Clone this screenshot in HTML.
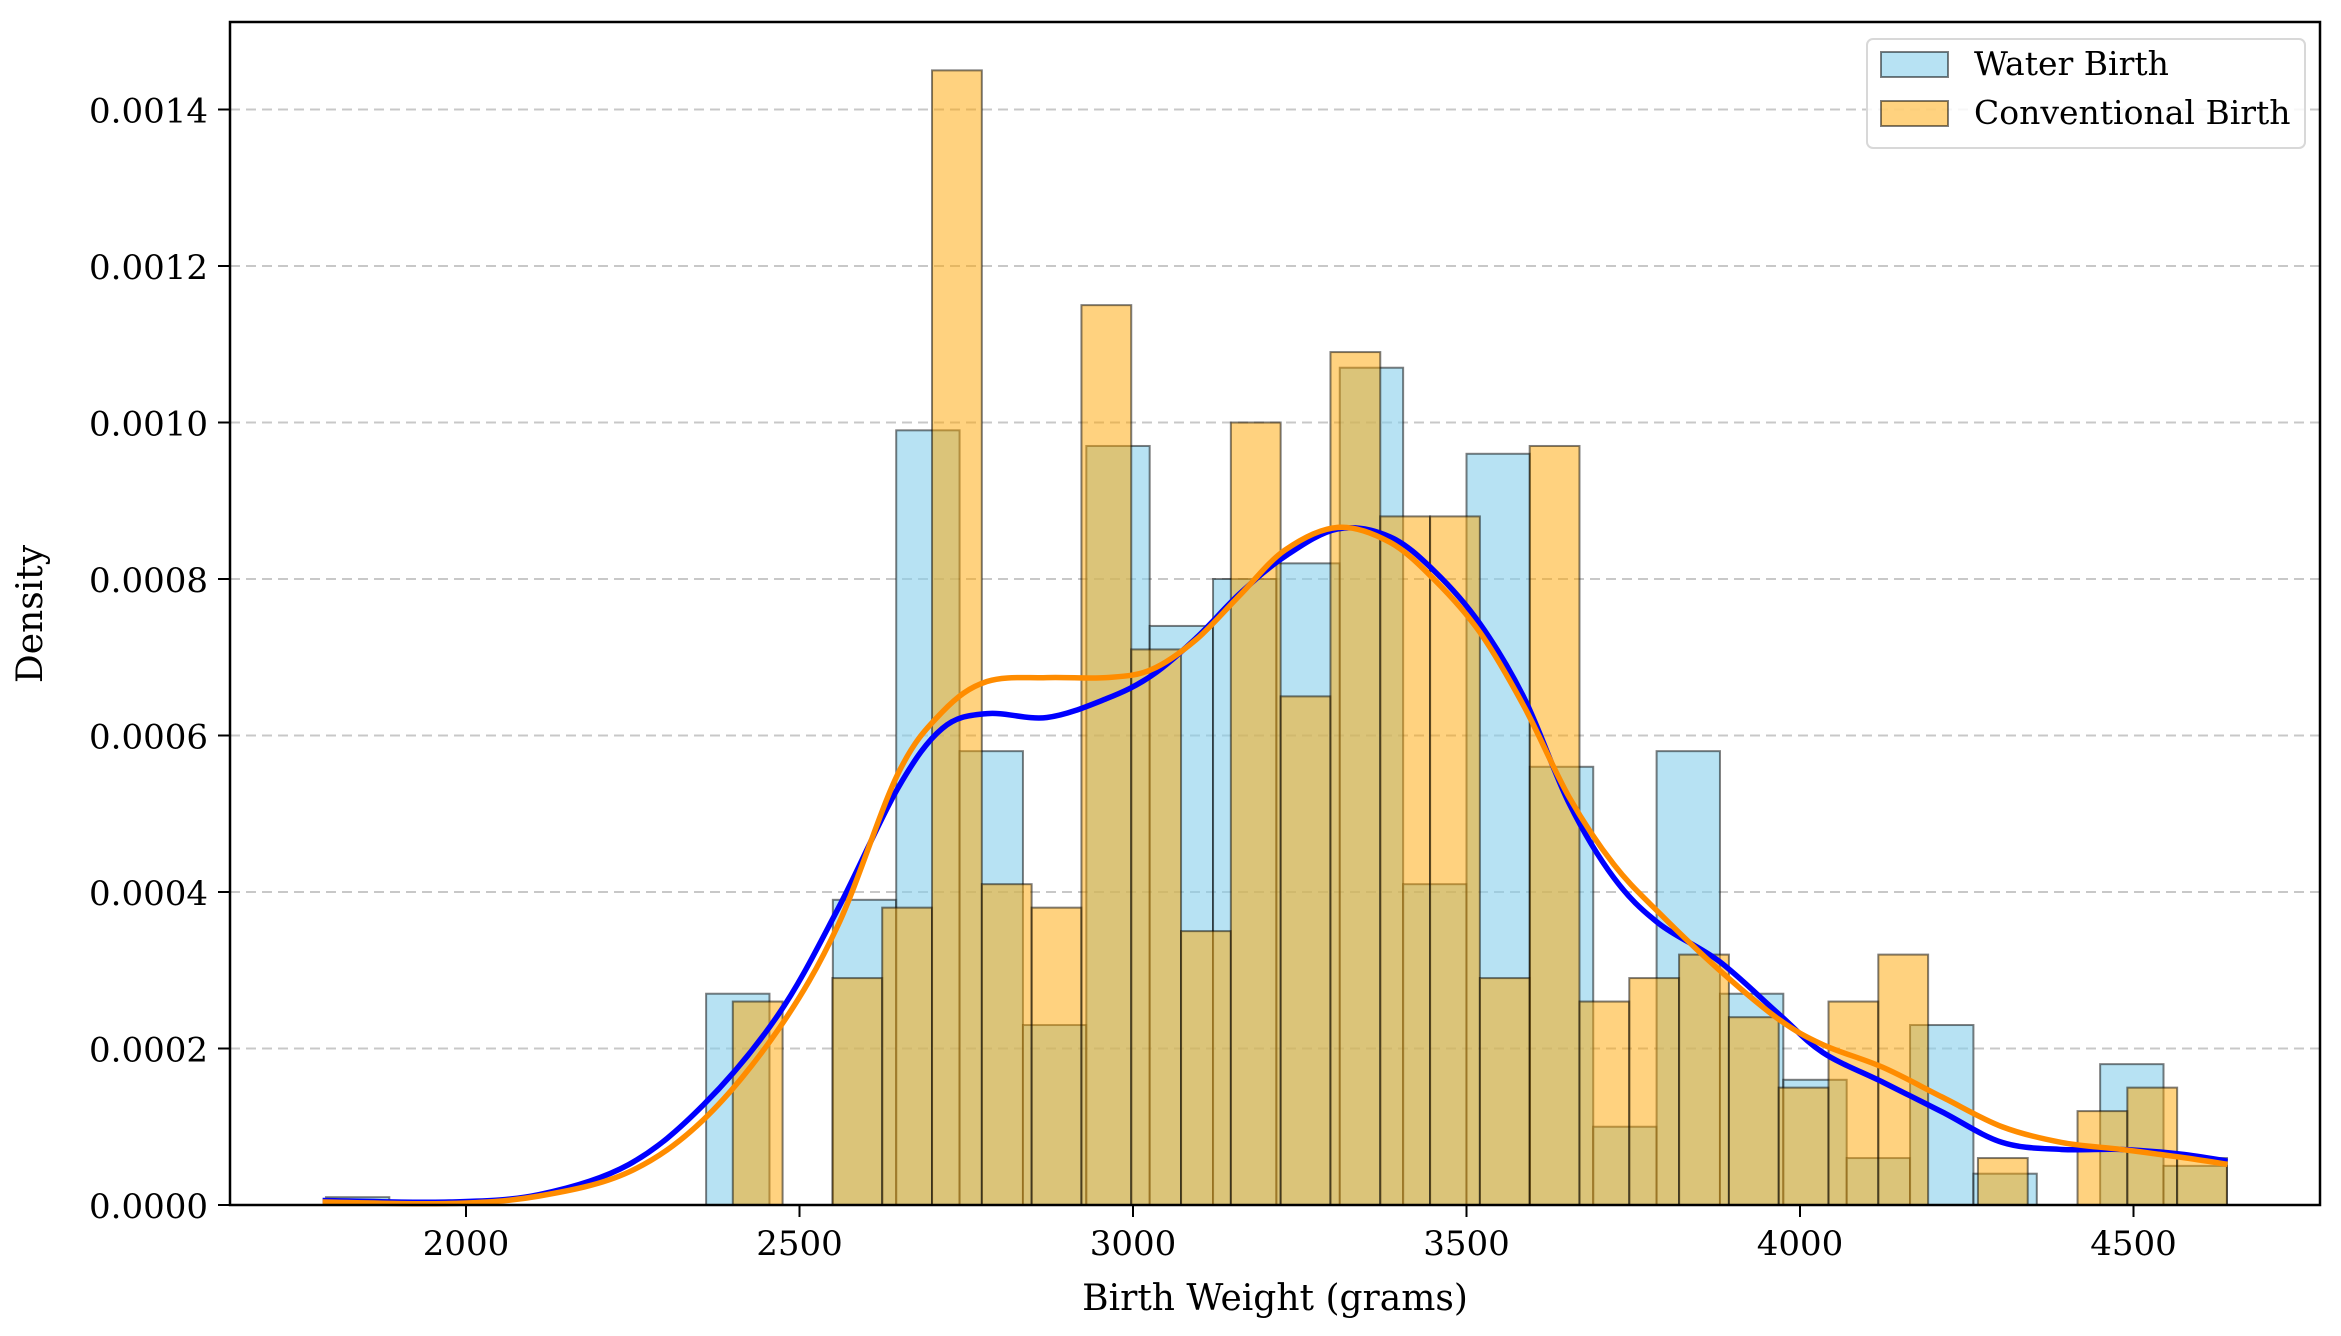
<!DOCTYPE html>
<html><head><meta charset="utf-8"><style>
html,body{margin:0;padding:0;background:#fff}
svg{display:block;font-family:"DejaVu Serif","Liberation Serif",serif}
</style></head><body>
<svg id="chart" width="2341" height="1336" viewBox="0 0 2341 1336" xmlns="http://www.w3.org/2000/svg">
<g id="grid"></g><g id="bars"></g><g id="kde"></g><g id="axes"></g>
</svg>
<script>
const waterStart = 1790, waterWidth = 95;
const waterDensity = [0.00001,0,0,0,0,0,0.00027,0,0.00039,0.00099,0.00058,0.00023,0.00097,0.00074,0.00080,0.00082,0.00107,0.00041,0.00096,0.00056,0.00010,0.00058,0.00027,0.00016,0.00006,0.00023,0.00004,0,0.00018,0.00005];
const convStart = 2400, convWidth = 74.67;
const convDensity = [0.00026,0,0.00029,0.00038,0.00145,0.00041,0.00038,0.00115,0.00071,0.00035,0.00100,0.00065,0.00109,0.00088,0.00088,0.00029,0.00097,0.00026,0.00029,0.00032,0.00024,0.00015,0.00026,0.00032,0,0.00006,0,0.00012,0.00015,0.00006];
const kdeX = [1785,1975,2110,2244,2356,2468,2558,2647,2714,2781,2871,2960,3027,3094,3161,3228,3307,3385,3452,3520,3587,3654,3721,3788,3878,3967,4034,4124,4213,4303,4392,4482,4571,4641];
const waterKde = [0.0000057,0.0000038,0.0000134,0.0000517,0.000128,0.000243,0.000379,0.000532,0.000609,0.000628,0.000623,0.000647,0.000676,0.000724,0.000782,0.000829,0.000864,0.000854,0.000810,0.000743,0.000647,0.000513,0.000418,0.000360,0.000312,0.000245,0.000195,0.000157,0.000119,0.000080,0.000071,0.000071,0.000065,0.000056];
const convKde = [0.0000038,0.0000019,0.0000115,0.0000421,0.000109,0.000224,0.000358,0.000550,0.000630,0.000669,0.000674,0.000674,0.000684,0.000722,0.000780,0.000837,0.000866,0.000847,0.000799,0.000732,0.000636,0.000521,0.000435,0.000374,0.000301,0.000238,0.000205,0.000176,0.000138,0.000100,0.000080,0.000071,0.000061,0.000052];
const xTicks = [2000,2500,3000,3500,4000,4500];
const yTicks = [0,0.0002,0.0004,0.0006,0.0008,0.0010,0.0012,0.0014];
const yTickLabels = ["0.0000","0.0002","0.0004","0.0006","0.0008","0.0010","0.0012","0.0014"];

const L=230,R=2320,T=22,B=1205;
const X=v=>466+(v-2000)*0.667;
const Y=d=>B-d/0.0002*156.5;
const NS="http://www.w3.org/2000/svg";
function mk(tag,attrs,parent){const e=document.createElementNS(NS,tag);for(const k in attrs)e.setAttribute(k,attrs[k]);parent.appendChild(e);return e;}
const grid=document.getElementById('grid'),bars=document.getElementById('bars'),kde=document.getElementById('kde'),axes=document.getElementById('axes');

yTicks.forEach((t,i)=>{
  if(i>0){const g=mk('line',{x1:L,x2:R,y1:Y(t),y2:Y(t),stroke:'#c8c8c8','stroke-width':2,'stroke-dasharray':'10,6'},grid);
  
  }
  const tk=mk('line',{x1:L-12,x2:L,y1:Y(t),y2:Y(t),stroke:'#000','stroke-width':2},axes);
  
  
  const tx=mk('text',{x:L-22,y:Y(t)+13,'text-anchor':'end','font-size':34,fill:'#000'},axes);
  tx.textContent=yTickLabels[i];
  
  
});
xTicks.forEach(t=>{
  const tk=mk('line',{x1:X(t),x2:X(t),y1:B,y2:B+12,stroke:'#000','stroke-width':2},axes);
  
  
  const tx=mk('text',{x:X(t),y:B+50,'text-anchor':'middle','font-size':34,fill:'#000'},axes);
  tx.textContent=String(t);
  
  
});
waterDensity.forEach((d,i)=>{
  const x0=X(waterStart+i*waterWidth),x1=X(waterStart+(i+1)*waterWidth);
  const r=mk('rect',{x:x0,y:Y(d),width:x1-x0,height:B-Y(d),fill:'#87ceeb','fill-opacity':0.6,stroke:'rgba(0,0,0,0.5)','stroke-width':2},bars);
  
  
});
convDensity.forEach((d,i)=>{
  const x0=X(convStart+i*convWidth),x1=X(convStart+(i+1)*convWidth);
  const r=mk('rect',{x:x0,y:Y(d),width:x1-x0,height:B-Y(d),fill:'#ffa500','fill-opacity':0.5,stroke:'rgba(0,0,0,0.5)','stroke-width':2},bars);
  
  
});
function smooth(xs,ys){
  const p=xs.map((v,i)=>[X(v),Y(ys[i])]);
  let d='M'+p[0][0]+','+p[0][1];
  for(let i=0;i<p.length-1;i++){
    const p0=p[Math.max(0,i-1)],p1=p[i],p2=p[i+1],p3=p[Math.min(p.length-1,i+2)];
    d+=' C'+(p1[0]+(p2[0]-p0[0])/6)+','+(p1[1]+(p2[1]-p0[1])/6)+' '+(p2[0]-(p3[0]-p1[0])/6)+','+(p2[1]-(p3[1]-p1[1])/6)+' '+p2[0]+','+p2[1];
  }
  return d;
}
const kw=mk('path',{d:smooth(kdeX,waterKde),fill:'none',stroke:'#0000ff','stroke-width':5.5,'stroke-linejoin':'round'},kde);


const kc=mk('path',{d:smooth(kdeX,convKde),fill:'none',stroke:'#ff8c00','stroke-width':5.5,'stroke-linejoin':'round'},kde);



const frame=mk('rect',{x:L,y:T,width:R-L,height:B-T,fill:'none',stroke:'#000','stroke-width':2.5},axes);


const xl=mk('text',{x:(L+R)/2,y:1310,'text-anchor':'middle','font-size':36,fill:'#000'},axes);
xl.textContent='Birth Weight (grams)';


const yl=mk('text',{x:0,y:0,'text-anchor':'middle','font-size':36,fill:'#000',transform:'translate(42,614) rotate(-90)'},axes);
yl.textContent='Density';



const lg=mk('g',{},axes);


mk('rect',{x:1867,y:39,width:438,height:109,rx:6,fill:'#fff','fill-opacity':0.85,stroke:'#d8d8d8','stroke-width':2},lg);
const p1=mk('rect',{x:1881,y:52,width:67,height:25,fill:'#87ceeb','fill-opacity':0.6,stroke:'rgba(0,0,0,0.5)','stroke-width':2},lg);


const t1=mk('text',{x:1974,y:75,'font-size':33,fill:'#000'},lg);
t1.textContent='Water Birth';


const p2=mk('rect',{x:1881,y:101,width:67,height:25,fill:'#ffa500','fill-opacity':0.5,stroke:'rgba(0,0,0,0.5)','stroke-width':2},lg);


const t2=mk('text',{x:1974,y:124,'font-size':33,fill:'#000'},lg);
t2.textContent='Conventional Birth';


</script>
</body></html>
